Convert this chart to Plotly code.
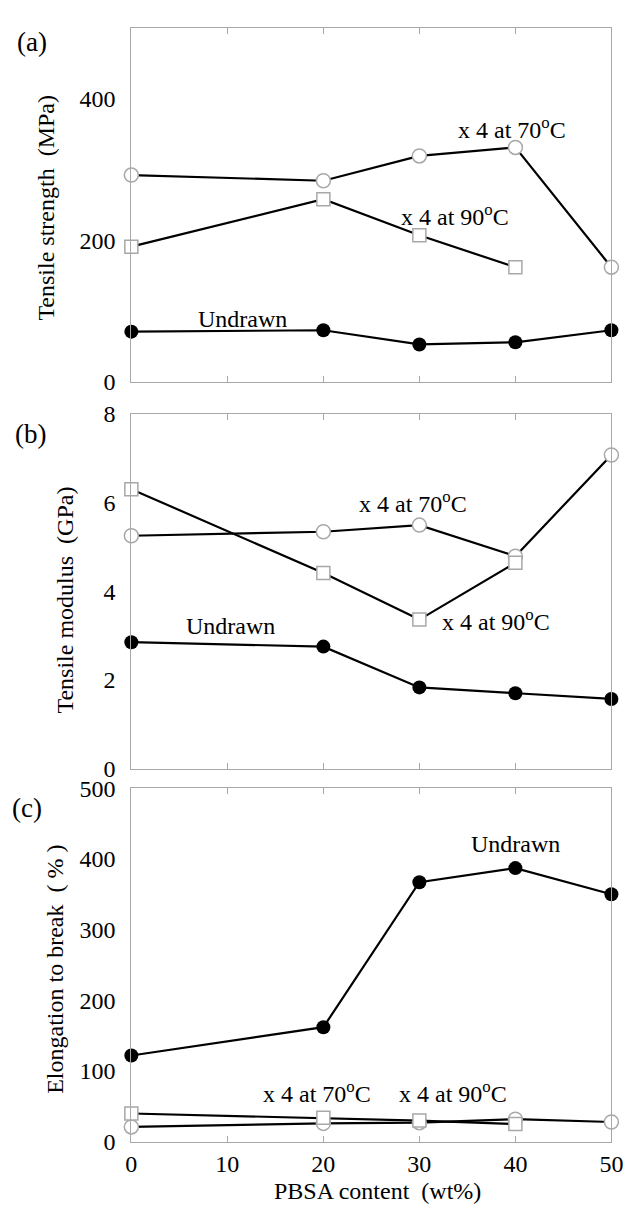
import plotly.graph_objects as go

# ---------------- data ----------------
pbsa = [0, 20, 30, 40, 50]
pbsa_90 = [0, 20, 30, 40]

ts_70 = [292, 284, 319, 331, 162]
ts_90 = [191, 258, 207, 162]
ts_undrawn = [71, 73, 53, 56, 73]

tm_70 = [5.25, 5.34, 5.49, 4.79, 7.07]
tm_90 = [6.30, 4.41, 3.36, 4.64]
tm_undrawn = [2.85, 2.75, 1.83, 1.70, 1.57]

el_70 = [21, 26, 27, 32, 28]
el_90 = [40, 34, 30, 25]
el_undrawn = [122, 162, 367, 387, 350]

x_ticks = [0, 10, 20, 30, 40, 50]
ya_ticks = [0, 200, 400]
yb_ticks = [0, 2, 4, 6, 8]
yc_ticks = [0, 100, 200, 300, 400, 500]

W, H = 637, 1223
FONT = "Liberation Serif"
GREY = "#a8a8a8"
TXT = "#000"


def px(xp):
    return xp / W


def py(yp):
    return 1 - yp / H


fig = go.Figure()

open_circle = dict(symbol="circle", size=14, color="white", line=dict(color=GREY, width=1.5))
open_square = dict(symbol="square", size=13, color="white", line=dict(color=GREY, width=1.5))
filled = dict(symbol="circle", size=14, color="black", line=dict(color="black", width=0))
line = dict(color="black", width=2.2)

panels = [
    ("x", "y", ts_70, ts_90, ts_undrawn),
    ("x2", "y2", tm_70, tm_90, tm_undrawn),
    ("x3", "y3", el_70, el_90, el_undrawn),
]
for xa, ya, s70, s90, sun in panels:
    fig.add_trace(go.Scatter(x=pbsa, y=s70, mode="lines+markers", marker=open_circle, line=line,
                             xaxis=xa, yaxis=ya, cliponaxis=False, showlegend=False))
    fig.add_trace(go.Scatter(x=pbsa_90, y=s90, mode="lines+markers", marker=open_square, line=line,
                             xaxis=xa, yaxis=ya, cliponaxis=False, showlegend=False))
    fig.add_trace(go.Scatter(x=pbsa, y=sun, mode="lines+markers", marker=filled, line=line,
                             xaxis=xa, yaxis=ya, cliponaxis=False, showlegend=False))

xdom = [px(129), px(623)]
ydoms = {
    "a": [py(377), py(15)],
    "b": [py(772), py(409.5)],
    "c": [py(1153.3), py(792)],
}

tickfont = dict(family=FONT, size=24, color=TXT)


def xaxis(anchor, dom, labels):
    return dict(domain=dom, anchor=anchor, range=[0, 50], tickvals=x_ticks,
                showticklabels=labels, ticks="inside", ticklen=6, tickcolor=GREY, tickwidth=1,
                showline=True, linecolor=GREY, linewidth=1, mirror="ticks",
                showgrid=False, zeroline=False, tickfont=tickfont, ticklabelstandoff=0)


def yaxis(anchor, dom, rng, vals):
    return dict(domain=dom, anchor=anchor, range=rng, tickvals=vals, ticks="",
                showline=True, linecolor=GREY, linewidth=1, mirror=True,
                showgrid=False, zeroline=False, tickfont=tickfont, ticklabelstandoff=10)


fig.update_layout(
    width=W, height=H, margin=dict(l=0, r=0, t=0, b=0),
    paper_bgcolor="white", plot_bgcolor="white",
    font=dict(family=FONT, size=24, color=TXT),
    xaxis=xaxis("y", xdom, False),
    xaxis2=xaxis("y2", xdom, False),
    xaxis3=xaxis("y3", xdom, True),
    yaxis=yaxis("x", ydoms["a"], [0, 500], ya_ticks),
    yaxis2=yaxis("x2", ydoms["b"], [0, 8], yb_ticks),
    yaxis3=yaxis("x3", ydoms["c"], [0, 500], yc_ticks),
)

ann = []
lab70 = "x 4 at 70<sup>o</sup>C"
lab90 = "x 4 at 90<sup>o</sup>C"
inplot = [
    ("x", "y", 39.6, 358, lab70),
    ("x", "y", 33.7, 235, lab90),
    ("x", "y", 11.6, 89, "Undrawn"),
    ("x2", "y2", 29.3, 6.0, lab70),
    ("x2", "y2", 38.0, 3.36, lab90),
    ("x2", "y2", 10.3, 3.22, "Undrawn"),
    ("x3", "y3", 19.3, 70.5, lab70),
    ("x3", "y3", 33.5, 70.5, lab90),
    ("x3", "y3", 40.0, 421, "Undrawn"),
]
for xr, yr, xv, yv, t in inplot:
    ann.append(dict(x=xv, y=yv, xref=xr, yref=yr, text=t, showarrow=False,
                    font=dict(family=FONT, size=24, color=TXT), xanchor="center", yanchor="middle"))

# y-axis titles
titles = [
    (41, 199, "Tensile strength  (MPa)"),
    (61, 600, "Tensile modulus  (GPa)"),
    (51, 977, "Elongation to break  ( % )"),
]
for xp_, yp_, t in titles:
    ann.append(dict(x=px(xp_), y=py(yp_), xref="paper", yref="paper", text=t, showarrow=False,
                    textangle=-90, font=dict(family=FONT, size=24, color=TXT),
                    xanchor="center", yanchor="middle"))

# x-axis title
ann.append(dict(x=px(382), y=py(1204), xref="paper", yref="paper", text="PBSA content  (wt%)",
                showarrow=False, font=dict(family=FONT, size=24, color=TXT),
                xanchor="center", yanchor="middle"))

# panel labels
for xp_, yp_, t in [(27, 30, "(a)"), (25, 430, "(b)"), (22, 812, "(c)")]:
    ann.append(dict(x=px(xp_), y=py(yp_), xref="paper", yref="paper", text=t, showarrow=False,
                    font=dict(family=FONT, size=27, color=TXT), xanchor="center", yanchor="middle"))

fig.update_layout(annotations=ann)
fig.write_html("out.html")
